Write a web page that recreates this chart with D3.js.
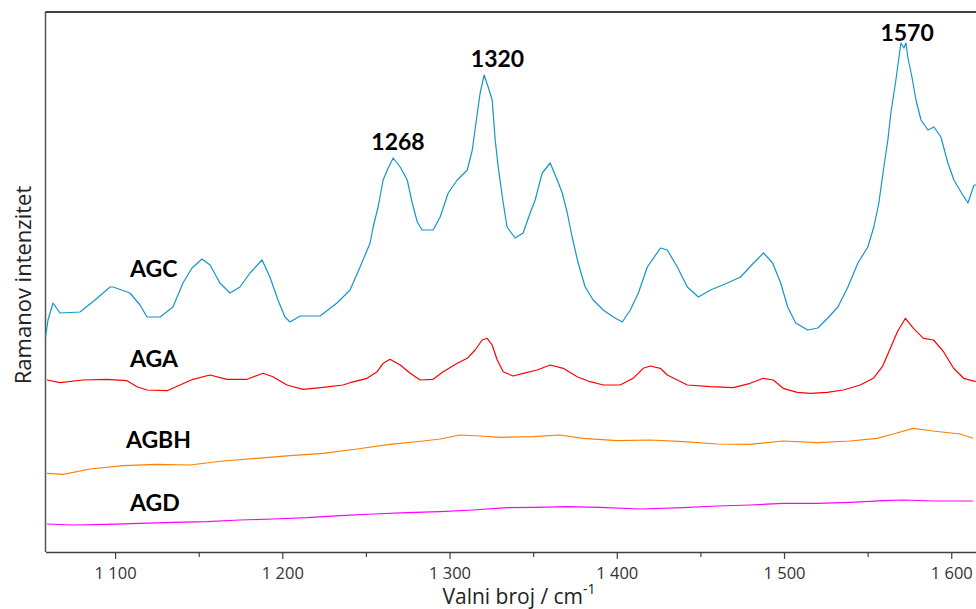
<!DOCTYPE html>
<html>
<head>
<meta charset="utf-8">
<script src="https://cdn.jsdelivr.net/npm/d3@7"></script>
<style>
  body { margin: 0; background: #fff; }
  svg { display: block; }
</style>
</head>
<body>
<svg id="chart" width="976" height="609"></svg>
<script>
// Raman spectra, intensity in arbitrary units (offset stacked as in the original)

// AGC (blue)
let agcWave = [1058.4, 1059.9, 1062.9, 1067.1, 1079.0, 1088.0, 1097.0, 1098.8, 1108.9, 1114.9,
    1119.1, 1126.9, 1134.6, 1140.6, 1146.0, 1152.0, 1156.8, 1162.7, 1168.7, 1174.7,
    1180.7, 1187.9, 1192.6, 1197.4, 1201.6, 1204.6, 1210.6, 1222.6, 1232.7, 1240.5,
    1246.5, 1252.5, 1254.3, 1257.3, 1260.3, 1263.3, 1266.3, 1270.5, 1274.7, 1277.7,
    1280.7, 1283.6, 1290.2, 1294.4, 1299.2, 1304.6, 1310.6, 1313.6, 1316.6, 1318.3,
    1320.7, 1323.1, 1325.5, 1327.3, 1329.1, 1332.1, 1334.4, 1339.2, 1344.0, 1348.2,
    1351.2, 1355.4, 1360.2, 1364.4, 1367.4, 1370.4, 1373.3, 1376.9, 1381.1, 1385.9,
    1391.9, 1397.9, 1403.3, 1408.1, 1412.9, 1418.3, 1426.1, 1430.2, 1436.2, 1442.2,
    1448.8, 1456.0, 1466.2, 1474.0, 1481.8, 1487.8, 1493.2, 1498.0, 1502.2, 1507.0,
    1514.2, 1520.2, 1526.2, 1532.2, 1538.2, 1544.2, 1550.1, 1553.7, 1556.7, 1559.7,
    1562.1, 1563.9, 1566.9, 1569.9, 1571.7, 1572.9, 1574.1, 1576.5, 1578.9, 1581.9,
    1586.1, 1589.6, 1593.8, 1598.0, 1601.6, 1605.8, 1610.0, 1613.6, 1615.4];
let agcValues = [215, 232, 249, 239, 240, 252, 265, 265, 259, 247,
    235, 235, 245, 269, 284, 293, 287, 269, 259, 265,
    279, 292, 275, 252, 235, 230, 236, 236, 249, 262,
    285, 309, 325, 345, 372, 384, 394, 385, 372, 349,
    330, 322, 322, 335, 359, 372, 382, 402, 439, 459,
    477, 465, 452, 412, 385, 349, 325, 314, 319, 339,
    352, 379, 389, 372, 359, 339, 315, 289, 265, 252,
    242, 235, 230, 242, 259, 285, 304, 302, 285, 265,
    255, 262, 269, 275, 289, 299, 289, 269, 245, 229,
    222, 224, 234, 245, 265, 289, 305, 325, 349, 385,
    412, 439, 472, 509, 504, 509, 494, 475, 452, 432,
    422, 425, 415, 389, 372, 360, 349, 367, 367];

// AGA (red)
let agaWave = [1059.3, 1067.1, 1080.8, 1095.2, 1107.1, 1113.1, 1119.1, 1131.1, 1138.8, 1146.6,
    1156.8, 1166.9, 1178.9, 1188.5, 1194.4, 1202.8, 1212.4, 1224.4, 1236.3, 1240.5,
    1250.7, 1256.7, 1260.3, 1264.4, 1270.5, 1276.5, 1282.4, 1290.2, 1296.2, 1304.6,
    1310.6, 1315.3, 1319.5, 1322.5, 1325.5, 1328.5, 1332.1, 1338.0, 1344.0, 1352.4,
    1360.2, 1368.0, 1376.3, 1384.1, 1391.9, 1402.0, 1409.8, 1415.8, 1420.0, 1426.0,
    1430.2, 1442.2, 1456.0, 1469.6, 1479.8, 1487.6, 1493.6, 1499.5, 1507.9, 1515.7,
    1525.9, 1535.4, 1545.6, 1553.4, 1558.8, 1563.6, 1567.8, 1572.6, 1577.4, 1583.4,
    1589.4, 1595.4, 1601.4, 1607.4, 1614.6];
let agaValues = [172, 169.3, 172, 172.7, 171.3, 165.3, 162, 161.3, 167, 172.7,
    177, 172.7, 172.7, 178.7, 175.3, 167, 162.7, 164.7, 167, 169.3,
    173.7, 180.3, 188.7, 192.7, 187, 178.7, 172, 172.7, 180.3, 188.7,
    193.7, 202, 212, 213.7, 207, 192, 180.3, 176, 178.7, 182,
    187, 183.7, 175.3, 170.3, 167, 167, 173.7, 183.7, 186, 183.7,
    177, 167, 165.3, 164.3, 168.7, 173.7, 172, 163.7, 159.7, 158.7,
    159.7, 162, 167, 173.7, 185.3, 203.7, 220.3, 233.7, 223.7, 213.7,
    212, 200.3, 183.7, 173.7, 170.3];

// AGBH (orange)
let agbhWave = [1059.3, 1068.9, 1085.0, 1104.7, 1125.1, 1144.8, 1164.5, 1184.9, 1204.6, 1224.4,
    1244.7, 1264.4, 1284.2, 1294.4, 1306.3, 1318.3, 1330.2, 1350.0, 1366.1, 1379.9,
    1400.2, 1419.9, 1439.7, 1460.0, 1479.8, 1499.5, 1519.8, 1539.6, 1555.7, 1565.3,
    1577.2, 1589.2, 1605.3, 1613.1];
let agbhValues = [78.7, 77.7, 83, 86.3, 87.7, 87, 91, 93.7, 96.3, 98.7,
    103, 107.7, 111, 113, 117, 116, 114.7, 115.3, 117, 113.7,
    111.3, 112, 110.3, 108, 107.7, 111, 109.3, 111, 113.7, 118,
    123.7, 121, 118, 113.7];

// AGD (magenta)
let agdWave = [1059.3, 1074.8, 1095.2, 1114.9, 1134.6, 1154.9, 1174.7, 1194.4, 1214.8, 1234.5,
    1254.3, 1274.6, 1294.4, 1314.1, 1334.4, 1350.0, 1370.3, 1390.1, 1414.0, 1439.7,
    1460.0, 1479.8, 1499.5, 1519.8, 1539.6, 1559.3, 1571.2, 1589.2, 1613.1];
let agdValues = [28, 27, 27.7, 28.7, 29.7, 30.3, 32, 33, 34.3, 36.3,
    38, 39.3, 40.3, 42, 44.3, 44.7, 45.3, 44.7, 43, 44.3,
    46, 47, 48.7, 48.7, 49.7, 51.3, 52, 51, 51];

let majorTicks = [1100, 1200, 1300, 1400, 1500, 1600];
let minorTicks = [1150, 1250, 1350, 1450, 1550];

let seriesNames = ["AGC", "AGA", "AGBH", "AGD"];
let seriesColors = ["#1396c8", "#ff0000", "#ff8000", "#ff00ff"];

// peak annotations on AGC
let peakLabels = ["1268", "1320", "1570"];
let peakLabelWave = [1269.2, 1328.7, 1573.6];
let peakLabelValues = [402, 485, 511];

let width = 976;
let height = 609;
let margin = { top: 12, right: 0, bottom: 57, left: 45.5 };

let svg = d3.select("#chart");

let x = d3.scaleLinear()
    .domain([1058.4, 1614.8])
    .range([margin.left, width - margin.right]);

let y = d3.scaleLinear()
    .domain([0, 540])
    .range([height - margin.bottom, margin.top]);

svg.append("defs").append("clipPath")
    .attr("id", "plot-clip")
    .append("rect")
    .attr("x", margin.left)
    .attr("y", margin.top)
    .attr("width", width - margin.left)
    .attr("height", height - margin.bottom - margin.top);

// space as thousands separator, e.g. "1 300"
let locale = d3.formatLocale({ decimal: ",", thousands: " ", grouping: [3], currency: ["", ""] });
let fmt = locale.format(",d");

let xAxis = svg.append("g")
    .attr("transform", "translate(0," + (height - margin.bottom) + ")")
    .call(d3.axisBottom(x).tickValues(majorTicks).tickSize(7).tickSizeOuter(0).tickFormat(fmt));

xAxis.select(".domain").attr("stroke", "#404040").attr("stroke-width", 1.5);
xAxis.selectAll(".tick line").attr("stroke", "#404040").attr("stroke-width", 1.2);
xAxis.selectAll(".tick text")
    .attr("dy", "1.05em")
    .style("font-family", "'Open Sans', sans-serif")
    .style("font-size", "16.5px")
    .attr("fill", "#333");

svg.append("g")
    .attr("transform", "translate(0," + (height - margin.bottom) + ")")
    .call(d3.axisBottom(x).tickValues(minorTicks).tickSize(5).tickFormat(""))
    .call(function (g) { g.select(".domain").remove(); })
    .selectAll(".tick line").attr("stroke", "#404040").attr("stroke-width", 1.2);

// left axis line and top frame
svg.append("line")
    .attr("x1", margin.left).attr("x2", margin.left)
    .attr("y1", margin.top).attr("y2", height - margin.bottom)
    .attr("stroke", "#555").attr("stroke-width", 1.5);

svg.append("line")
    .attr("x1", margin.left).attr("x2", width)
    .attr("y1", margin.top).attr("y2", margin.top)
    .attr("stroke", "#000").attr("stroke-width", 1.5);

let line = d3.line()
    .x(function (d) { return x(d[0]); })
    .y(function (d) { return y(d[1]); });

let seriesData = [
    d3.zip(agcWave, agcValues),
    d3.zip(agaWave, agaValues),
    d3.zip(agbhWave, agbhValues),
    d3.zip(agdWave, agdValues)
];

svg.append("g")
    .attr("clip-path", "url(#plot-clip)")
    .selectAll("path")
    .data(seriesData)
    .enter()
    .append("path")
    .attr("d", line)
    .attr("fill", "none")
    .attr("stroke", function (d, i) { return seriesColors[i]; })
    .attr("stroke-width", 1.2)
    .attr("stroke-linejoin", "round");

// series names, positioned in data units to the left of each trace
let nameWave = [1108.9, 1108.9, 1106.5, 1108.9];
let nameValues = [275, 185, 104, 41];

svg.append("g")
    .selectAll("text")
    .data(seriesNames)
    .enter()
    .append("text")
    .attr("x", function (d, i) { return x(nameWave[i]); })
    .attr("y", function (d, i) { return y(nameValues[i]); })
    .text(function (d) { return d; })
    .style("font-family", "Lato, sans-serif")
    .style("font-weight", "bold")
    .style("font-size", "23px")
    .attr("fill", "#000");

svg.append("g")
    .selectAll("text")
    .data(peakLabels)
    .enter()
    .append("text")
    .attr("x", function (d, i) { return x(peakLabelWave[i]); })
    .attr("y", function (d, i) { return y(peakLabelValues[i]); })
    .attr("text-anchor", "middle")
    .text(function (d) { return d; })
    .style("font-family", "Lato, sans-serif")
    .style("font-weight", "bold")
    .style("font-size", "23px")
    .attr("fill", "#000");

// axis titles
let xTitle = svg.append("text")
    .attr("x", 519)
    .attr("y", 604)
    .attr("text-anchor", "middle")
    .style("font-family", "'Open Sans', sans-serif")
    .style("font-size", "21px")
    .attr("fill", "#222");
xTitle.append("tspan").text("Valni broj / cm");
xTitle.append("tspan").attr("dy", -10).style("font-size", "14px").text("-1");

svg.append("text")
    .attr("transform", "translate(31,285) rotate(-90)")
    .attr("text-anchor", "middle")
    .style("font-family", "'Open Sans', sans-serif")
    .style("font-size", "22px")
    .attr("fill", "#222")
    .text("Ramanov intenzitet");
</script>
</body>
</html>
